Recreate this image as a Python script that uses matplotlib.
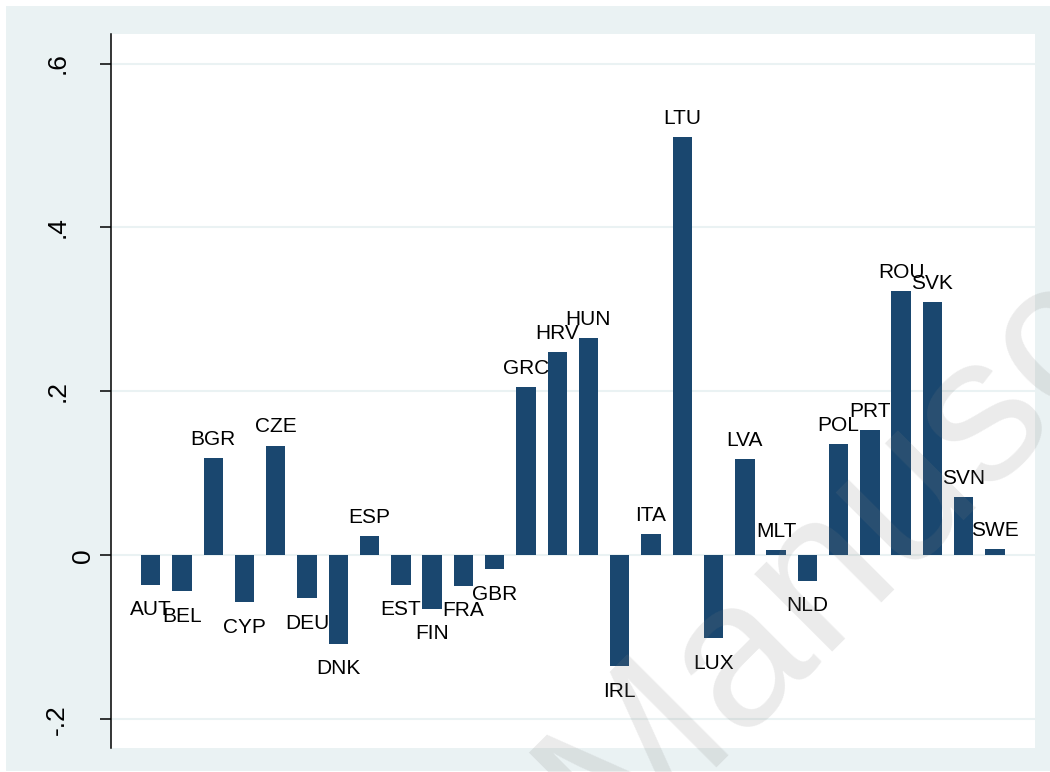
import numpy as np
import matplotlib
matplotlib.use("Agg")
import matplotlib.pyplot as plt
import matplotlib.patches as patches
import matplotlib.transforms as mtransforms

# country codes and values
countries = ["AUT", "BEL", "BGR", "CYP", "CZE", "DEU", "DNK", "ESP", "EST", "FIN",
             "FRA", "GBR", "GRC", "HRV", "HUN", "IRL", "ITA", "LTU", "LUX", "LVA",
             "MLT", "NLD", "POL", "PRT", "ROU", "SVK", "SVN", "SWE"]
values = [-0.036, -0.044, 0.119, -0.057, 0.134, -0.052, -0.108, 0.024, -0.036, -0.065,
          -0.037, -0.017, 0.205, 0.248, 0.265, -0.135, 0.026, 0.510, -0.101, 0.118,
          0.007, -0.031, 0.136, 0.153, 0.323, 0.309, 0.071, 0.008]
yticks = [-0.2, 0, 0.2, 0.4, 0.6]
ytick_labels = ["-.2", "0", ".2", ".4", ".6"]

plt.rcParams['font.family'] = ['Liberation Sans', 'DejaVu Sans']

bg = '#EAF2F3'
navy = '#1A476F'

fig = plt.figure(figsize=(10.5, 7.72), dpi=100, facecolor='white')
# Stata-like graph region
fig.patches.append(patches.Rectangle((6 / 1050, 1 / 772), 1 - 6 / 1050, 1 - 7 / 772,
                                     transform=fig.transFigure, facecolor=bg,
                                     edgecolor='none', zorder=-10))

ax = fig.add_axes([111 / 1050, 1 - 748 / 772, (1035 - 111) / 1050, (748 - 34) / 772])
ax.set_facecolor('white')

x = np.arange(len(countries))
ax.bar(x, values, width=0.62, color=navy, zorder=2)

# marker labels above positive bars, below negative ones
for xi, v, name in zip(x, values, countries):
    if v >= 0:
        ax.annotate(name, (xi, v), xytext=(0, 9.4), textcoords='offset points',
                    ha='center', va='baseline', fontsize=15, color='black', zorder=3)
    else:
        ax.annotate(name, (xi, v), xytext=(0, -11.2), textcoords='offset points',
                    ha='center', va='top', fontsize=15, color='black', zorder=3)

ax.set_xlim(-1.27, 28.28)
ax.set_ylim(-0.235, 0.636)
ax.set_xticks([])
ax.set_yticks(yticks)
ax.set_yticklabels([])
ax.tick_params(axis='y', length=8, width=1.1, color='black')
ax.grid(axis='y', color=bg, linewidth=1.5, zorder=0)
ax.set_axisbelow(True)
for side in ['top', 'right', 'bottom']:
    ax.spines[side].set_visible(False)
ax.spines['left'].set_linewidth(1.1)

# rotated y tick labels (Stata puts "0" a bit closer to the axis)
trans = mtransforms.blended_transform_factory(ax.transAxes, ax.transData)
for t, lab in zip(yticks, ytick_labels):
    off = -11.5 if lab == "0" else -30
    ax.annotate(lab, (0, t), xycoords=trans, xytext=(off, 0), textcoords='offset points',
                rotation=90, ha='right', va='center', fontsize=19, color='black')

# watermark
fig.text(936 / 1050, 1 - 455 / 772, "Manuscript", rotation=45, fontsize=150,
         color='#808080', alpha=0.16, ha='center', va='center', zorder=5)

fig.savefig("out.png", dpi=100, facecolor='white')
